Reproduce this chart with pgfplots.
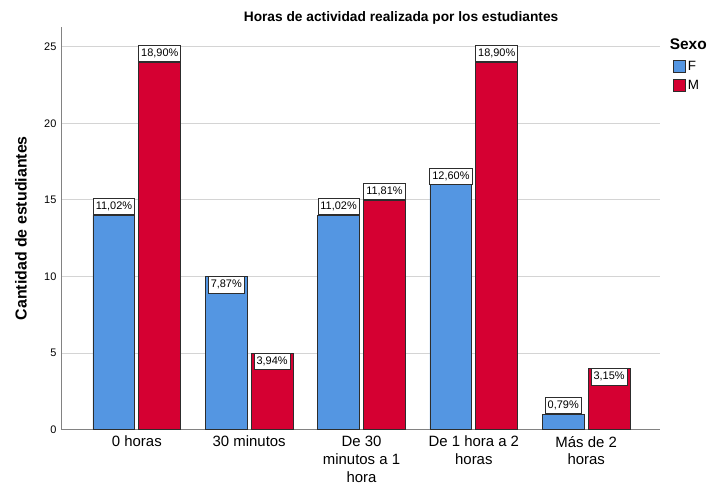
\documentclass[border=0pt]{standalone}
\usepackage{pgfplots}
\pgfplotsset{compat=1.18}
\usepackage{pgfplotstable}
\usepackage{fontspec}
\setmainfont{Liberation Sans}
\definecolor{cF}{RGB}{84,150,226}
\definecolor{cM}{RGB}{213,0,50}
\definecolor{edge}{RGB}{45,45,45}
\definecolor{axgray}{RGB}{130,130,130}
\definecolor{gridgray}{RGB}{212,212,212}

% F: values and percentage labels (above the bar)
\pgfplotstableread{
x y lab
0 14 11,02\%
2 14 11,02\%
3 16 12,60\%
4 1 0,79\%
}\dataFabove
% F: label drawn inside the top of the bar
\pgfplotstableread{
x y lab
1 10 7,87\%
}\dataFinside
\pgfplotstableread{
x y lab
0 24 18,90\%
2 15 11,81\%
3 24 18,90\%
}\dataMabove
\pgfplotstableread{
x y lab
1 5 3,94\%
4 4 3,15\%
}\dataMinside

\begin{document}
\begin{tikzpicture}
\path (-62bp,-57bp) rectangle (648bp,430bp);
\begin{axis}[
  at={(0,0)}, anchor=south west,
  scale only axis, width=599bp, height=403bp,
  xmin=-0.667, xmax=4.66, ymin=0, ymax=26.3,
  axis x line*=bottom, axis y line*=left,
  axis line style={-, draw=axgray, line width=1bp},
  major tick length=0pt,
  ytick={0,5,10,15,20,25},
  ymajorgrids, grid style={draw=gridgray, line width=0.9bp},
  xtick={0,1,2,3,4},
  xticklabels={0 horas, 30 minutos, {De 30\\minutos a 1\\hora}, {De 1 hora a 2\\horas}, {Más de 2\\horas}},
  xticklabel style={align=center, font=\fontsize{15}{18}\selectfont, anchor=north, yshift=-3bp},
  yticklabel style={font=\fontsize{11}{12}\selectfont, xshift=-2bp},
  /pgf/number format/assume math mode=true,
  ylabel={Cantidad de estudiantes},
  ylabel style={at={(axis description cs:-0.0685,0.5)}, anchor=center, font=\bfseries\fontsize{16}{18}\selectfont},
  ybar, bar width=0.373,
  legend style={at={(axis description cs:1.021,0.92)}, anchor=north west, draw=none, fill=none,
     font=\fontsize{13.5}{15}\selectfont, inner sep=0pt, row sep=4bp, legend cell align=left},
  legend image code/.code={\draw[#1, draw=edge, line width=0.8bp] (0bp,-6bp) rectangle (12bp,6bp);},
  lbl/.style={nodes near coords,
     point meta=explicit symbolic,
     every node near coord/.append style={anchor=#1, draw=edge, fill=white, line width=0.8bp,
     font=\fontsize{11}{12}\selectfont, inner xsep=2.5bp, inner ysep=3bp, text height=8bp, text depth=2.2bp}},
]
\addplot[fill=cF, draw=edge, line width=0.8bp, bar shift=-0.204, lbl=south] table[x=x, y=y, meta=lab] {\dataFabove};
\addlegendentry{F}
\addplot[fill=cM, draw=edge, line width=0.8bp, bar shift=0.204, lbl=south] table[x=x, y=y, meta=lab] {\dataMabove};
\addlegendentry{M}
\addplot[forget plot, fill=cF, draw=edge, line width=0.8bp, bar shift=-0.204, lbl=north] table[x=x, y=y, meta=lab] {\dataFinside};
\addplot[forget plot, fill=cM, draw=edge, line width=0.8bp, bar shift=0.204, lbl=north] table[x=x, y=y, meta=lab] {\dataMinside};
\end{axis}
\node[font=\bfseries\fontsize{13.8}{16}\selectfont] at (339.5bp,412bp) {Horas de actividad realizada por los estudiantes};
\node[font=\bfseries\fontsize{15.5}{18}\selectfont, anchor=west] at (605bp,386bp) {Sexo};
\end{tikzpicture}
\end{document}
